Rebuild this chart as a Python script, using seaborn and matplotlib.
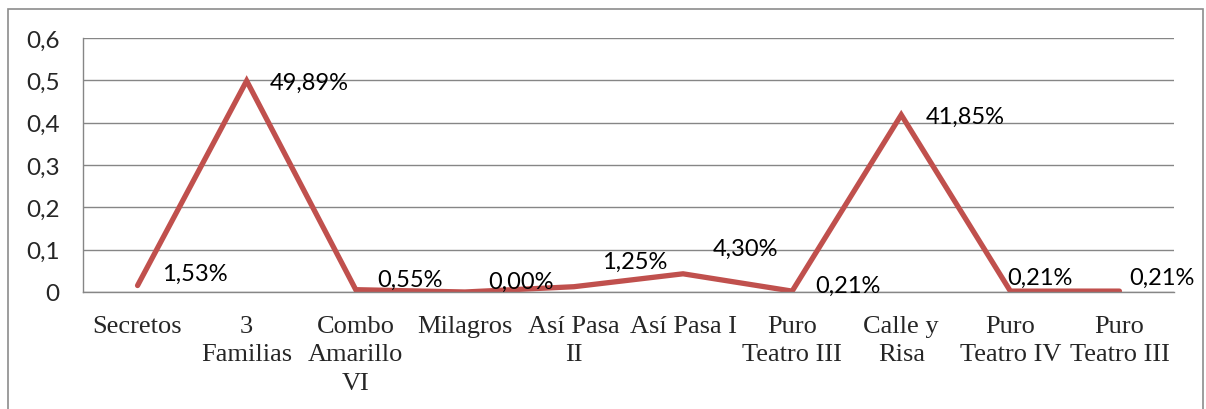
import matplotlib
matplotlib.use("Agg")
import matplotlib.pyplot as plt
import seaborn as sns
import numpy as np
from matplotlib.patches import Rectangle
from matplotlib.ticker import FixedLocator, FuncFormatter

categories = ["Secretos", "3\nFamilias", "Combo\nAmarillo\nVI", "Milagros",
              "Así Pasa\nII", "Así Pasa I", "Puro\nTeatro III", "Calle y\nRisa",
              "Puro\nTeatro IV", "Puro\nTeatro III"]
values = [0.0153, 0.4989, 0.0055, 0.0000, 0.0125, 0.0430, 0.0021, 0.4185, 0.0021, 0.0021]
labels = ["1,53%", "49,89%", "0,55%", "0,00%", "1,25%", "4,30%", "0,21%", "41,85%", "0,21%", "0,21%"]

# label offsets in pixels (dx from point, dy of label center from point)
label_dx = [24, 23, 22, 23, 28, 30, 23, 24, -3, 10]
label_dy = [12, -2, 10, 11, 25, 25, 6, -2, 14, 14]

sns.set_style("white")
plt.rcParams["font.family"] = ["Lato", "DejaVu Sans"]

fig = plt.figure(figsize=(12.06, 4.10), dpi=100)
fig.patches.append(Rectangle((8 / 1206, -0.05), 1195 / 1206, 1.05 - 10 / 410,
                             transform=fig.transFigure, fill=False,
                             edgecolor="#8c8c8c", linewidth=1.2))
ax = fig.add_axes([83 / 1206, 1 - 293 / 410, 1091 / 1206, 254 / 410])

x = np.arange(len(values))
sns.lineplot(x=x, y=values, ax=ax, color="#C0504D", linewidth=3.8,
             solid_capstyle="round", solid_joinstyle="miter")

ax.set_xlim(-0.5, len(values) - 0.5)
ax.set_ylim(0, 0.6)
ax.set_yticks(np.arange(0, 0.61, 0.1))
ax.yaxis.set_major_formatter(FuncFormatter(lambda v, p: "0" if abs(v) < 1e-9 else f"{v:.1f}".replace(".", ",")))
ax.grid(axis="y", color="#868686", linewidth=1)
ax.set_axisbelow(True)

ax.set_xticks(x)
ax.set_xticklabels(categories, family=["Liberation Serif"], fontsize=19, linespacing=1.38)
ax.xaxis.set_minor_locator(FixedLocator(np.arange(-0.5, len(values), 1.0)))
ax.tick_params(axis="x", which="major", length=0, pad=16.5)
ax.tick_params(axis="x", which="minor", length=8, color="#868686", width=1)
ax.tick_params(axis="y", length=7, color="#868686", width=1, labelsize=17.5, pad=10)

for side in ["top", "right"]:
    ax.spines[side].set_visible(False)
for side in ["left", "bottom"]:
    ax.spines[side].set_color("#868686")
    ax.spines[side].set_linewidth(1)

for xi, v, lab, dx, dy in zip(x, values, labels, label_dx, label_dy):
    ax.annotate(lab, (xi, v), xytext=(dx * 0.72, dy * 0.72), textcoords="offset points",
                ha="left", va="center", fontsize=17, color="black")

fig.savefig("out.png", dpi=100)
